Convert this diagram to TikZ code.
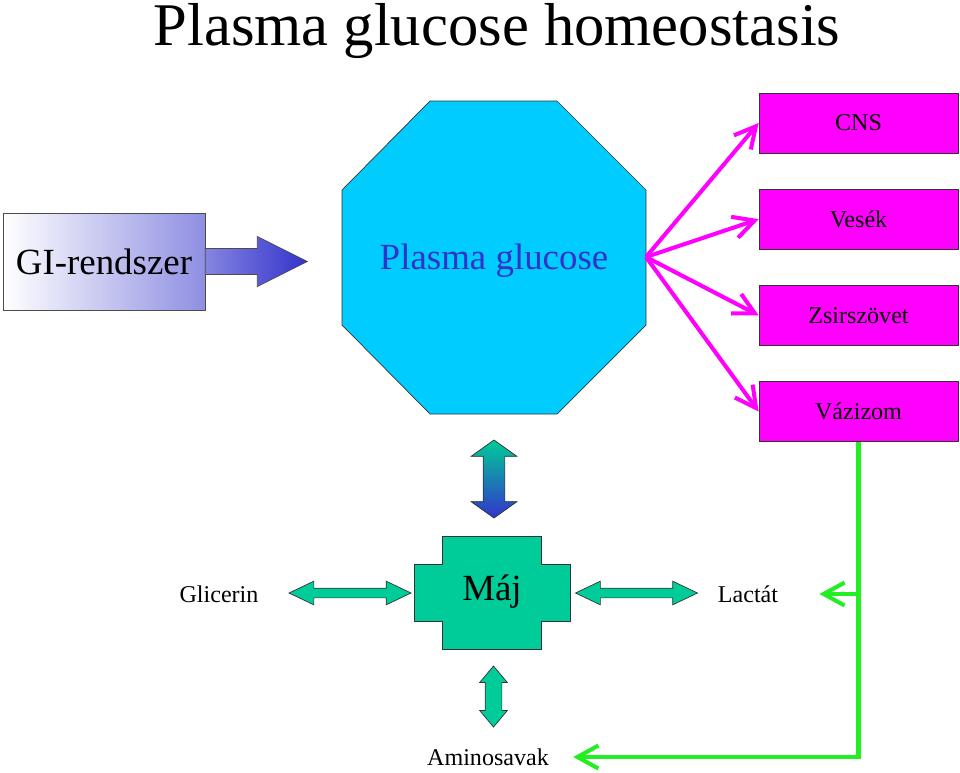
\documentclass[tikz,border=0pt]{standalone}
\usepackage{fontspec}
\setmainfont{Liberation Serif}
\usetikzlibrary{positioning,shapes.arrows,arrows.meta}
\definecolor{organmagenta}{RGB}{255,0,255}
\definecolor{plasmacyan}{RGB}{0,204,255}
\definecolor{majteal}{RGB}{0,204,153}
\definecolor{giblue}{RGB}{51,51,204}
\definecolor{tejsavgreen}{RGB}{34,238,34}
\tikzset{
  organ/.style={draw=black!80,fill=organmagenta,minimum width=3.98cm,minimum height=1.2cm,inner sep=0pt,font=\fontsize{13.7}{16}\selectfont},
  label text/.style={inner sep=0pt,font=\fontsize{13.7}{16}\selectfont},
  dblarrow/.style={double arrow,draw=black!80,fill=majteal,inner xsep=0pt},
  pinkline/.style={draw=organmagenta,line width=2.3pt,-{Straight Barb[length=4.2mm,width=4.4mm]}},
  greenline/.style={draw=tejsavgreen,line width=2.3pt,-{Straight Barb[length=4.2mm,width=4.6mm]}}
}

\begin{document}
\begin{tikzpicture}[x=0.02cm,y=-0.02cm]
\useasboundingbox (0,0) rectangle (960,772);

\node [anchor=base] (title) at (497,45) {\fontsize{34.5}{40}\selectfont Plasma glucose homeostasis};

\node [draw=black!70,left color=white,right color=giblue!55,minimum width=4.04cm,minimum height=1.94cm,inner sep=0pt,font=\fontsize{21}{24}\selectfont] (gi) at (104,261.5) {GI-rendszer};
\draw [draw=black!70,left color=giblue!60,right color=giblue] (gi.east) ++(0,-13) -- ++(52,0) -- ++(0,-12) -- ++(50,25) -- ++(-50,25) -- ++(0,-12) -- ++(-52,0) -- cycle;

% octagon
\filldraw [draw=black!80,fill=plasmacyan] (430,101) -- (557,101) -- (646,190) -- (646,325) -- (557,414) -- (430,414) -- (342,325) -- (342,190) -- cycle;
\node [text=giblue,font=\fontsize{21}{24}\selectfont] (plasma) at (494,261) {Plasma glucose};
\coordinate (plasmaout) at (646,257);

\node [organ] (cns) at (858.5,123) {CNS};
\node [organ,below=0.71cm of cns] (vesek) {Vesék};
\node [organ,below=0.71cm of vesek] (zsir) {Zsirszövet};
\node [organ,below=0.71cm of zsir] (vaz) {Vázizom};

\foreach \t in {cns,vesek,zsir,vaz}
  \draw [pinkline] (plasmaout) -- (\t.west);

\node [dblarrow,rotate=90,inner ysep=0.21cm,minimum height=1.56cm,double arrow head extend=0.24cm,double arrow tip angle=109,top color=majteal,bottom color=giblue] (updown) at (494,479) {};

\fill [majteal,draw=black!80] (442,536) -- (541,536) -- (541,564) -- (570,564) -- (570,621) -- (541,621) -- (541,649) -- (442,649) -- (442,621) -- (414,621) -- (414,564) -- (442,564) -- cycle;
\node [font=\fontsize{21}{24}\selectfont] (maj) at (492,592) {Máj};

\node [dblarrow,inner ysep=0.09cm,minimum height=2.44cm,double arrow head extend=0.14cm,double arrow tip angle=51] (left) at (350,593) {};
\node [dblarrow,inner ysep=0.09cm,minimum height=2.44cm,double arrow head extend=0.14cm,double arrow tip angle=51] (right) at (636.5,593) {};
\node [dblarrow,rotate=90,inner ysep=0.16cm,minimum height=1.22cm,double arrow head extend=0.11cm,double arrow tip angle=80] (down) at (493.5,696.5) {};

\node [label text] (glicerin) at (219,594) {Glicerin};
\node [label text] (lactat) at (748,594) {Lactát};
\node [label text] (amino) at (488,757) {Aminosavak};

\draw [greenline,shorten >=0.48cm] (vaz.south) |- (amino.east);
\draw [greenline,shorten >=0.82cm] (vaz.south |- lactat) -- (lactat.east);
\end{tikzpicture}
\end{document}
